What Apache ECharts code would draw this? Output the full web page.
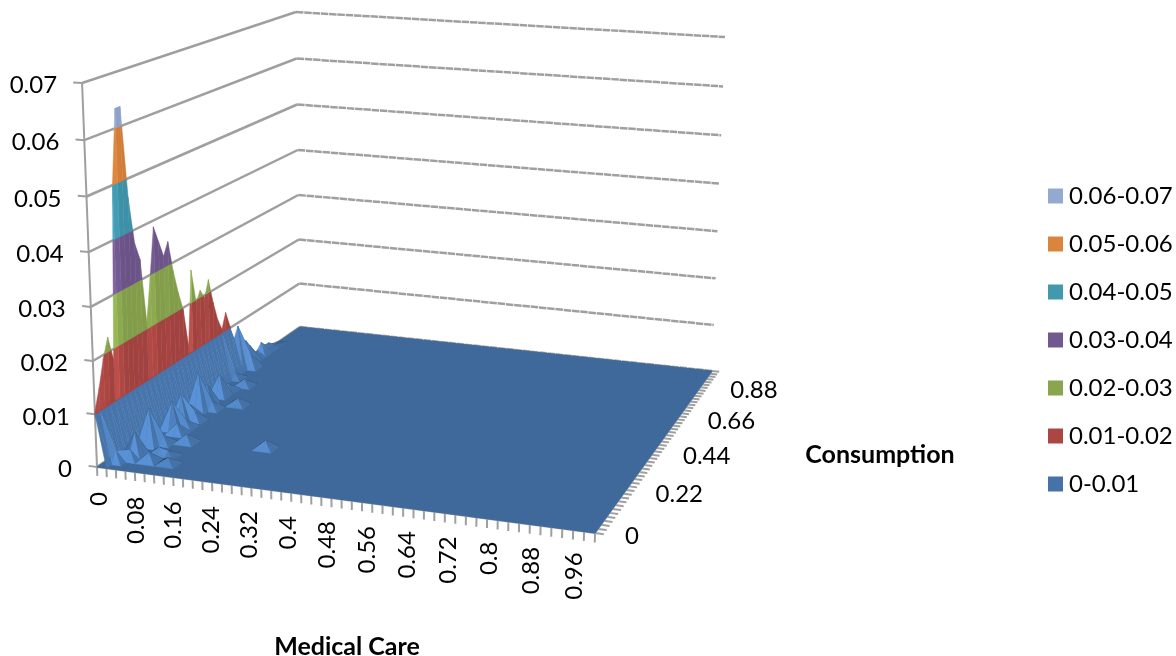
<!DOCTYPE html>
<html>
<head>
<meta charset="utf-8">
<style>html,body{margin:0;padding:0;background:#fff}#chart{width:1176px;height:656px}</style>
<script src="https://cdn.jsdelivr.net/npm/echarts@6/dist/echarts.min.js"></script>
</head>
<body>
<div id="chart"></div>
<script>
// Joint density surface of Medical Care and Consumption shares.
const densityTicks = [0, 0.01, 0.02, 0.03, 0.04, 0.05, 0.06, 0.07];
const densityLabels = ['0', '0.01', '0.02', '0.03', '0.04', '0.05', '0.06', '0.07'];
const medicalLabels = ['0', '0.08', '0.16', '0.24', '0.32', '0.4', '0.48', '0.56', '0.64', '0.72', '0.8', '0.88', '0.96'];
const consumptionLabels = ['0', '0.22', '0.44', '0.66', '0.88'];
const bandNames = ['0-0.01', '0.01-0.02', '0.02-0.03', '0.03-0.04', '0.04-0.05', '0.05-0.06', '0.06-0.07'];
const bandColors = ['#4572A7', '#AA4643', '#89A54E', '#71588F', '#4198AF', '#DB843D', '#93A9CF'];

// Density along the Medical Care = 0 edge, one value per Consumption step of 0.02.
const densityAtZeroMedical = [
  0.0105, 0.0144, 0.0193, 0.0228, 0.018, 0.05, 0.0636, 0.0636, 0.0465, 0.0375,
  0.034, 0.0213, 0.0296, 0.0388, 0.0355, 0.0322, 0.0346, 0.0283, 0.0235, 0.0196,
  0.0116, 0.0266, 0.0195, 0.0215, 0.0194, 0.0227, 0.0175, 0.0134, 0.0108, 0.0138,
  0.0104, 0.0072, 0.0093, 0.0052, 0.0051, 0.0035, 0.0013, 0.0014, 0.0025, 0.0014,
  0.0013, 0.0006, 0.0003
];
// Isolated interior peaks of the surface.
const peakMedical = [0.02, 0.04, 0.08, 0.12, 0.06, 0.1, 0.26, 0.04, 0.06, 0.04, 0.06, 0.06, 0.04, 0.04, 0.04, 0.04, 0.04, 0.06, 0.04, 0.02, 0.06, 0.1, 0.02, 0.1, 0.08, 0.04];
const peakConsumption = [0.04, 0.08, 0.06, 0.06, 0.16, 0.18, 0.2, 0.14, 0.22, 0.24, 0.26, 0.3, 0.28, 0.32, 0.36, 0.4, 0.46, 0.38, 0.5, 0.58, 0.54, 0.42, 0.66, 0.1, 0.1, 0.06];
const peakDensity = [0.002, 0.0045, 0.0018, 0.0012, 0.0016, 0.0016, 0.0016, 0.0072, 0.002, 0.0055, 0.0014, 0.002, 0.0058, 0.0025, 0.0078, 0.0043, 0.0045, 0.0016, 0.0014, 0.0012, 0.0014, 0.0014, 0.003, 0.001, 0.0014, 0.0018];

const STEP = 0.02, CELLS = 49, ZMAX = 0.07, BAND = 0.01;
const FONT = '24px Lato';

// Value grid: density[i][j] for Medical Care index i, Consumption index j.
const density = [];
for (let i = 0; i <= CELLS; i++) density.push(new Array(CELLS + 1).fill(0));
densityAtZeroMedical.forEach((d, j) => { density[0][j] = d; });
peakDensity.forEach((d, k) => {
  density[Math.round(peakMedical[k] / STEP)][Math.round(peakConsumption[k] / STEP)] = d;
});

// Perspective camera: floor corners and the top of the walls on the page.
const floorA = [97, 467], floorB = [595, 533], floorC = [712, 371], floorD = [300, 327];
const topA = [82, 83], topC = [725, 36], topD = [296, 13];

const cam = (function () {
  const [Ax, Ay] = floorA, [Bx, By] = floorB, [Cx, Cy] = floorC, [Dx, Dy] = floorD;
  const dx1 = Bx - Cx, dx2 = Dx - Cx, sx = Ax - Bx + Cx - Dx;
  const dy1 = By - Cy, dy2 = Dy - Cy, sy = Ay - By + Cy - Dy;
  const den = dx1 * dy2 - dx2 * dy1;
  const g = (sx * dy2 - dx2 * sy) / den, h = (dx1 * sy - sx * dy1) / den;
  const a = Bx - Ax + g * Bx, b = Dx - Ax + h * Dx;
  const d = By - Ay + g * By, e = Dy - Ay + h * Dy;
  const hom = (u, v) => [a * u + b * v + Ax, d * u + e * v + Ay, g * u + h * v + 1];
  // Least squares fit of the vertical direction from the three wall tops.
  const rows = [];
  [[0, 0, topA], [1, 1, topC], [0, 1, topD]].forEach(([u, v, t]) => {
    const p = hom(u, v);
    rows.push([1, 0, -t[0], t[0] * p[2] - p[0]]);
    rows.push([0, 1, -t[1], t[1] * p[2] - p[1]]);
  });
  const M = [[0, 0, 0, 0], [0, 0, 0, 0], [0, 0, 0, 0]];
  rows.forEach(r => {
    for (let m = 0; m < 3; m++) for (let n = 0; n < 4; n++) M[m][n] += r[m] * r[n];
  });
  for (let m = 0; m < 3; m++) {
    let piv = m;
    for (let q = m + 1; q < 3; q++) if (Math.abs(M[q][m]) > Math.abs(M[piv][m])) piv = q;
    [M[m], M[piv]] = [M[piv], M[m]];
    for (let q = 0; q < 3; q++) {
      if (q === m) continue;
      const k = M[q][m] / M[m][m];
      for (let n = m; n < 4; n++) M[q][n] -= k * M[m][n];
    }
  }
  const up = [M[0][3] / M[0][0], M[1][3] / M[1][1], M[2][3] / M[2][2]];
  return (i, j, z) => {
    const p = hom(i / CELLS, j / CELLS), t = z / ZMAX;
    const w = p[2] + up[2] * t;
    return [(p[0] + up[0] * t) / w, (p[1] + up[1] * t) / w];
  };
})();

function clipBand(poly, level, keepAbove) {
  const out = [];
  for (let k = 0; k < poly.length; k++) {
    const p = poly[k], q = poly[(k + 1) % poly.length];
    const pIn = keepAbove ? p[2] >= level : p[2] <= level;
    const qIn = keepAbove ? q[2] >= level : q[2] <= level;
    if (pIn) out.push(p);
    if (pIn !== qIn) {
      const t = (level - p[2]) / (q[2] - p[2]);
      out.push([p[0] + t * (q[0] - p[0]), p[1] + t * (q[1] - p[1]), level]);
    }
  }
  return out;
}

// Face brightness from its normal; grid steps and density in a common scale.
function faceShade(tri) {
  const [p, q, r] = tri, K = 1000;
  const ux = q[0] - p[0], uy = q[1] - p[1], uz = (q[2] - p[2]) * K;
  const vx = r[0] - p[0], vy = r[1] - p[1], vz = (r[2] - p[2]) * K;
  let nx = uy * vz - uz * vy, ny = uz * vx - ux * vz, nz = ux * vy - uy * vx;
  if (nz < 0) { nx = -nx; ny = -ny; nz = -nz; }
  const len = Math.hypot(nx, ny, nz) || 1;
  const d = (0.45 * nx - 0.75 * ny) / len;
  if (d >= 0.45) return 1.1 + (d - 0.45) * 1.3;
  if (d >= 0) return 1 + d * 0.22;
  return 1 + d;
}

function tint(hex, f) {
  const c = [1, 3, 5].map(o => parseInt(hex.substr(o, 2), 16));
  return 'rgb(' + c.map(v => Math.min(255, Math.round(v * f))).join(',') + ')';
}

function bandPolygons(api, poly, f, from, children) {
  bandColors.forEach((color, b) => {
    if (b < from) return;
    let clipped = clipBand(poly, b * BAND, true);
    if (clipped.length >= 3) clipped = clipBand(clipped, (b + 1) * BAND, false);
    if (clipped.length < 3) return;
    const s = b === 0 ? f : 1 + (f - 1) * 0.3;
    const fill = tint(color, Math.max(0.5, Math.min(1.38, s)) * 0.93);
    children.push({
      type: 'polygon', silent: true,
      shape: { points: clipped.map(pt => api.coord(cam(pt[0], pt[1], pt[2]))) },
      style: { fill, stroke: fill, lineWidth: 0.5 }
    });
  });
}

// The floor of the plot, where the density is zero.
function renderFloor(params, api) {
  const pts = [[0, 0], [CELLS, 0], [CELLS, CELLS], [0, CELLS]].map(c => api.coord(cam(c[0], c[1], 0)));
  const fill = tint(bandColors[0], 0.92);
  return { type: 'polygon', silent: true, shape: { points: pts }, style: { fill, stroke: fill, lineWidth: 1 } };
}

// The part of the Medical Care = 0 edge above the first band stands in the wall plane.
function renderEdgeCurtain(params, api) {
  const j = api.value(0);
  const a = density[0][j], b = density[0][j + 1];
  const children = [];
  if (a > BAND || b > BAND) {
    const quad = [[0, j, a], [0, j + 1, b], [0, j + 1, Math.min(b, BAND)], [0, j, Math.min(a, BAND)]];
    const f = faceShade([[0, j, a], [0, j + 1, b], [1, j, 0]]);
    bandPolygons(api, quad, f, 1, children);
  }
  return { type: 'group', children };
}

// Cells are drawn from the far back corner forward so nearer faces cover farther ones.
const cellOrder = [];
const edgeOrder = [];
for (let j = CELLS - 1; j >= 0; j--) {
  edgeOrder.push([j]);
  for (let i = 0; i < CELLS; i++) {
    if (density[i][j] || density[i + 1][j] || density[i][j + 1] || density[i + 1][j + 1]) cellOrder.push([i, j]);
  }
}

function renderCell(params, api) {
  const i = api.value(0), j = api.value(1);
  const n = (a, b) => [a, b, a === 0 ? Math.min(density[a][b], BAND) : density[a][b]];
  const far = n(i, j + 1), near = n(i + 1, j), left = n(i, j), right = n(i + 1, j + 1);
  const children = [];
  const maxZ = Math.max(far[2], near[2], left[2], right[2]);
  const tris = (left[2] === maxZ || right[2] === maxZ)
    ? [[left, right, far], [left, near, right]]
    : [[far, near, left], [far, near, right]];
  tris.forEach(tri => bandPolygons(api, tri, faceShade(tri), 0, children));
  return { type: 'group', children };
}

const GRID_GREY = '#9f9f9f';

function renderWallLine(params, api) {
  const z = densityTicks[params.dataIndex];
  const [a, d, c] = [cam(0, 0, z), cam(0, CELLS, z), cam(CELLS, CELLS, z)].map(p => api.coord(p));
  return {
    type: 'group', silent: true,
    children: [
      { type: 'polyline', shape: { points: [a, d] }, style: { stroke: GRID_GREY, lineWidth: 2.5, fill: 'none' } },
      { type: 'polyline', shape: { points: [d, c] }, style: { stroke: GRID_GREY, lineWidth: 2.5, fill: 'none', lineDash: [7.5, 0.8] } }
    ]
  };
}

function segment(api, a, b) {
  const p = api.coord(a), q = api.coord(b);
  return { type: 'line', shape: { x1: p[0], y1: p[1], x2: q[0], y2: q[1] }, style: { stroke: GRID_GREY, lineWidth: 2 }, silent: true };
}

function renderAxes(params, api) {
  const kids = [];
  kids.push(segment(api, cam(0, 0, 0), cam(0, 0, ZMAX)));
  densityTicks.forEach(z => kids.push(segment(api, cam(0, 0, z), cam(-0.9, 0, z))));
  kids.push(segment(api, cam(0, 0, 0), cam(CELLS, 0, 0)));
  kids.push(segment(api, cam(CELLS, 0, 0), cam(CELLS, CELLS, 0)));
  for (let i = 0; i <= CELLS; i++) kids.push(segment(api, cam(i, 0, 0), cam(i, 0, -0.0017)));
  for (let j = 0; j <= CELLS; j++) kids.push(segment(api, cam(CELLS, j, 0), cam(CELLS + 0.8, j, 0)));
  return { type: 'group', children: kids };
}

function textItem(api, at, text, align, rotation) {
  const p = api.coord(at);
  return {
    type: 'text', x: p[0], y: p[1], rotation: rotation || 0, silent: true,
    style: { text, font: FONT, fill: '#000', align, verticalAlign: 'middle' }
  };
}

function renderDensityLabel(params, api) {
  const p = cam(0, 0, densityTicks[params.dataIndex]);
  return textItem(api, [p[0] - 25, p[1] + 2.5], densityLabels[params.dataIndex], 'right');
}
function renderMedicalLabel(params, api) {
  const k = params.dataIndex;
  const p = cam(k * 4, 0, 0);
  return textItem(api, [p[0] + 2 - k, p[1] + 25 - k * 0.35], medicalLabels[k], 'right', Math.PI / 2);
}
function renderConsumptionLabel(params, api) {
  const k = params.dataIndex;
  const p = cam(CELLS, k * 11, 0);
  return textItem(api, [p[0] + 30 - k * 0.5, p[1] + 3 + k * 0.8], consumptionLabels[k], 'left');
}

function customSeries(renderItem, data, z) {
  return { type: 'custom', coordinateSystem: 'cartesian2d', renderItem, data, z, clip: false, silent: true, animation: false, progressive: 0 };
}

const series = [
  customSeries(renderWallLine, densityTicks.map(z => [z]), 1),
  customSeries(renderAxes, [[0]], 2),
  customSeries(renderFloor, [[0]], 3),
  customSeries(renderEdgeCurtain, edgeOrder, 4),
  customSeries(renderCell, cellOrder, 5),
  customSeries(renderDensityLabel, densityLabels.map((_, k) => [k]), 6),
  customSeries(renderMedicalLabel, medicalLabels.map((_, k) => [k]), 6),
  customSeries(renderConsumptionLabel, consumptionLabels.map((_, k) => [k]), 6)
];
// Legend entries, listed from the top band down.
bandNames.forEach((name, b) => {
  series.push({
    type: 'custom', name, coordinateSystem: 'cartesian2d', data: [],
    renderItem: () => null, itemStyle: { color: bandColors[b] }
  });
});

const chart = echarts.init(document.getElementById('chart'), null, { renderer: 'canvas' });
chart.setOption({
  animation: false,
  backgroundColor: '#fff',
  grid: { left: 0, top: 0, width: 1176, height: 656 },
  xAxis: { type: 'value', min: 0, max: 1176, show: false },
  yAxis: { type: 'value', min: 0, max: 656, inverse: true, show: false },
  title: [
    { text: 'Medical Care', left: 342, top: 629, textAlign: 'center', textStyle: { fontFamily: 'Lato', fontWeight: 'bold', fontSize: 25, color: '#000' } },
    { text: 'Consumption', left: 875, top: 437, textAlign: 'center', textStyle: { fontFamily: 'Lato', fontWeight: 'bold', fontSize: 25, color: '#000' } }
  ],
  legend: {
    orient: 'vertical', left: 1048, top: 184, padding: 0,
    itemWidth: 15, itemHeight: 15, itemGap: 24, icon: 'rect', selectedMode: false,
    data: bandNames.slice().reverse(),
    textStyle: { fontFamily: 'Lato', fontSize: 24, color: '#000', padding: [0, 0, 0, 1] }
  },
  series
});
</script>
</body>
</html>
